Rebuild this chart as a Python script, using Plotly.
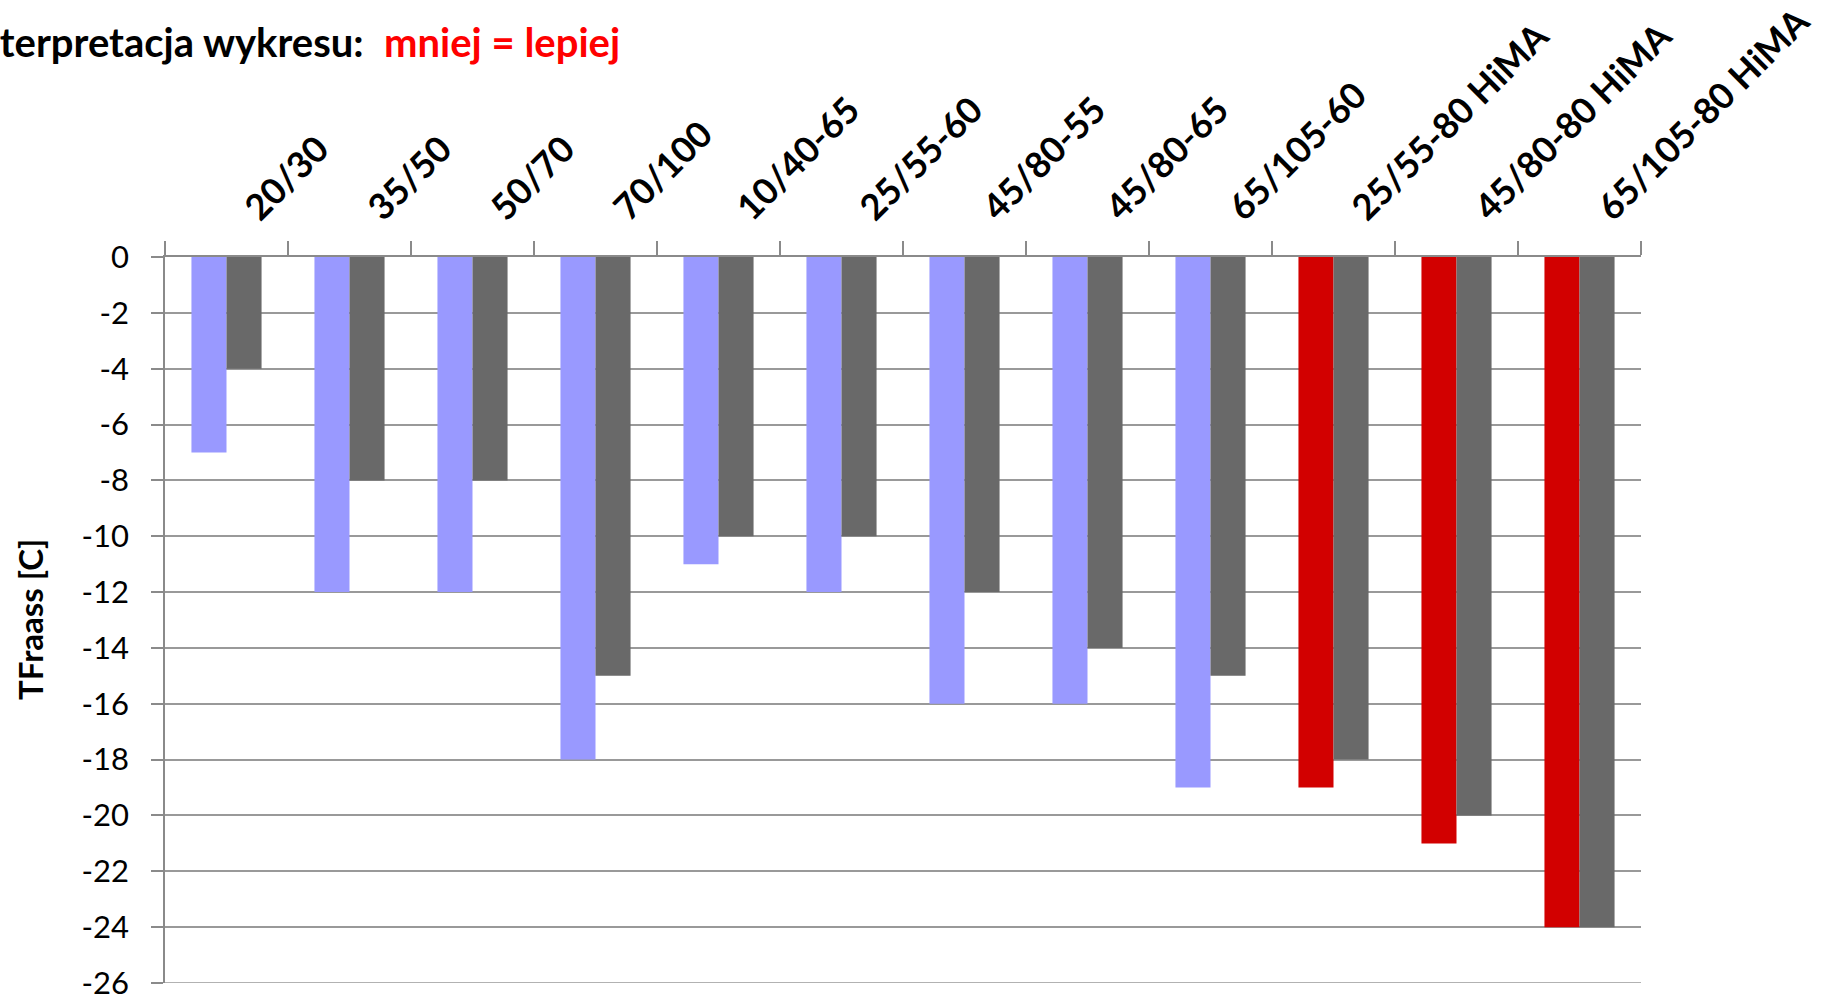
import plotly.graph_objects as go

categories = ["20/30", "35/50", "50/70", "70/100", "10/40-65", "25/55-60",
              "45/80-55", "45/80-65", "65/105-60", "25/55-80 HiMA",
              "45/80-80 HiMA", "65/105-80 HiMA"]
series_a = [-7, -12, -12, -18, -11, -12, -16, -16, -19, -19, -21, -24]
series_b = [-4, -8, -8, -15, -10, -10, -12, -14, -15, -18, -20, -24]
series_a_colors = ["#9999FF"] * 9 + ["#D20000"] * 3
series_b_color = "#696969"
y_ticks = list(range(0, -27, -2))
y_tick_text = [str(v) for v in y_ticks]

W, H = 1826, 997
ML, MR, MT, MB = 165, 185, 257, 14
FONT = "Lato"

n = len(categories)
label_shift = 0.17  # in category units, labels sit slightly right of centre

fig = go.Figure()
fig.add_trace(go.Bar(x=categories, y=series_a, marker=dict(color=series_a_colors, line=dict(width=0)),
                     name="A", showlegend=False))
fig.add_trace(go.Bar(x=categories, y=series_b, marker=dict(color=series_b_color, line=dict(width=0)),
                     name="B", showlegend=False))
# invisible helper trace so the label axis (x2) is rendered
fig.add_trace(go.Scatter(x=list(range(n)), y=series_b, xaxis="x2", yaxis="y", mode="markers",
                         marker=dict(opacity=0, size=1), hoverinfo="skip", showlegend=False))

pw = W - ML - MR
ph = H - MT - MB

def px_x(p):
    return (p - ML) / pw

def px_y(p):
    return (H - MB - p) / ph

fig.update_layout(
    width=W, height=H,
    margin=dict(l=ML, r=MR, t=MT, b=MB, autoexpand=False),
    paper_bgcolor="white", plot_bgcolor="white",
    barmode="group", bargap=0.43, bargroupgap=0,
    font=dict(family=FONT, color="black"),
    xaxis=dict(side="top", type="category", tickson="boundaries",
               ticks="outside", ticklen=14, tickcolor="#8a8a8a", tickwidth=1.5,
               showline=True, linecolor="#8a8a8a", linewidth=1.5,
               showgrid=False, automargin=False, showticklabels=False),
    xaxis2=dict(overlaying="x", anchor="y", side="top", type="linear",
                range=[-0.5 - label_shift, n - 0.5 - label_shift],
                tickvals=list(range(n)), ticktext=categories, tickangle=-45,
                ticks="", showline=False, showgrid=False, zeroline=False,
                ticklabelstandoff=21, automargin=False, ticklabeloverflow="allow",
                tickfont=dict(size=36, family=FONT, color="black", weight="bold")),
    yaxis=dict(range=[-26, 0], tickvals=y_ticks, ticktext=y_tick_text, ticks="outside", ticklen=12,
               tickcolor="#8a8a8a", tickwidth=1.5, showline=True, linecolor="#8a8a8a",
               linewidth=1.5, showgrid=True, gridcolor="#999999", gridwidth=1.5,
               zeroline=False, ticklabelstandoff=16, ticklabeloverflow="allow", automargin=False,
               tickfont=dict(size=31, family=FONT, color="black")),
)

fig.add_shape(type="line", xref="paper", yref="y", x0=0, x1=1, y0=-26, y1=-26,
              line=dict(color="#999999", width=1.5), layer="below")

fig.add_annotation(text="<b>TFraass [C]</b>", textangle=-90, xref="paper", yref="paper",
                   x=px_x(30), y=0.5, xanchor="center", yanchor="middle", showarrow=False,
                   font=dict(size=33, family=FONT, color="black"))
fig.add_annotation(text="<b>Interpretacja wykresu:</b>", xref="paper", yref="paper",
                   x=px_x(366), y=px_y(42), xanchor="right", yanchor="middle", showarrow=False,
                   font=dict(size=40, family=FONT, color="black"))
fig.add_annotation(text="<b>mniej = lepiej</b>", xref="paper", yref="paper",
                   x=px_x(382), y=px_y(42), xanchor="left", yanchor="middle", showarrow=False,
                   font=dict(size=40, family=FONT, color="#FF0000"))

fig.write_html("out.html", config={"displayModeBar": False},
               post_script="document.body.style.margin='0';document.body.style.overflow='hidden';")
